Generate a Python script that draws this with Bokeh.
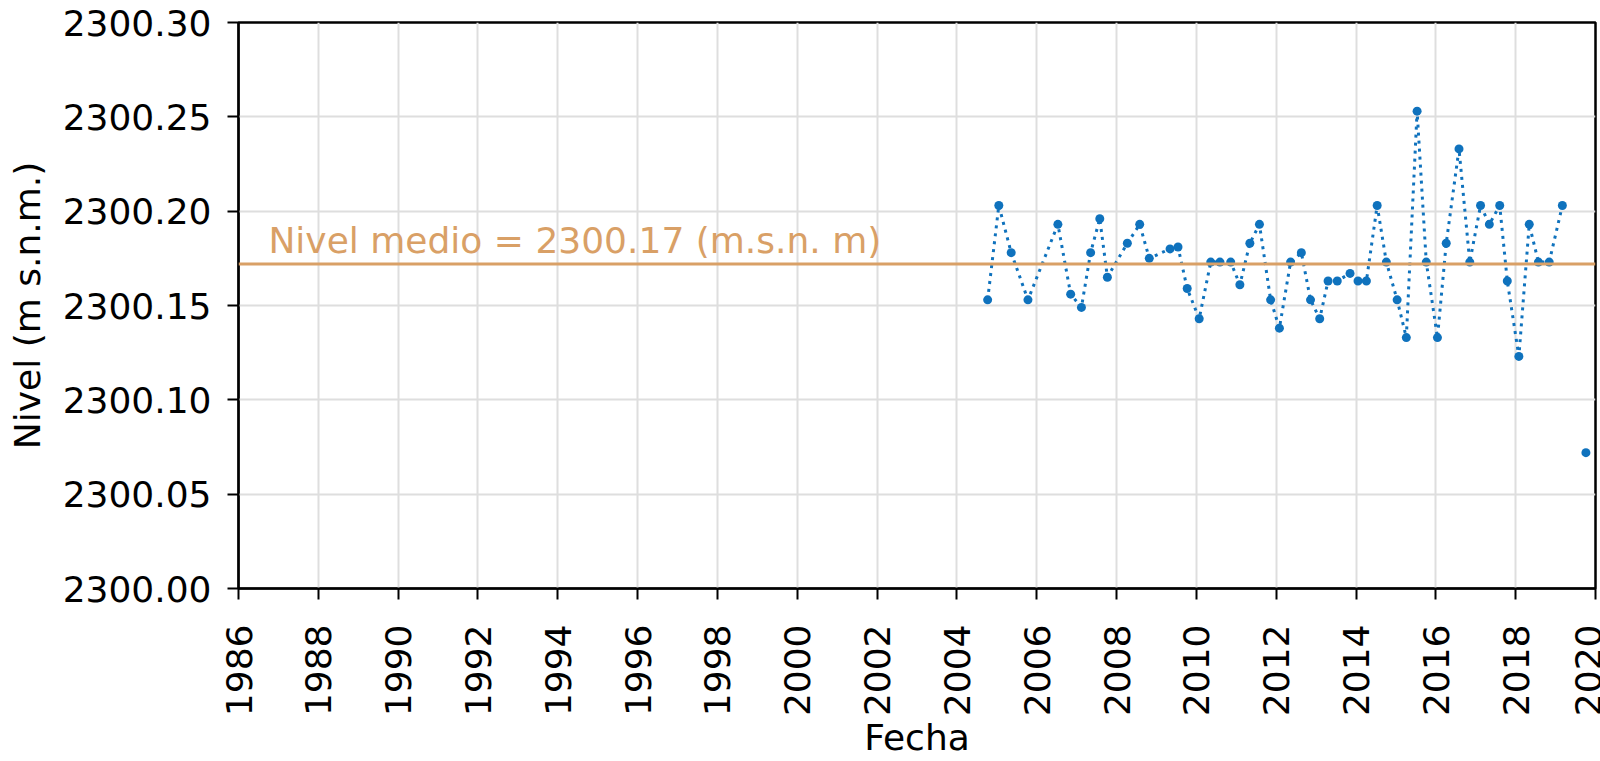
import math
from bokeh.plotting import figure
from bokeh.models import FixedTicker, Span, Label, Range1d
from bokeh.embed import file_html
from bokeh.resources import INLINE

# ---- data ----
fecha = [2004.77, 2005.05, 2005.36, 2005.78, 2006.53, 2006.85, 2007.12, 2007.35,
         2007.58, 2007.77, 2008.27, 2008.58, 2008.82, 2009.34, 2009.54, 2009.77,
         2010.07, 2010.36, 2010.59, 2010.86, 2011.09, 2011.34, 2011.58, 2011.86,
         2012.08, 2012.36, 2012.63, 2012.86, 2013.09, 2013.30, 2013.53, 2013.85,
         2014.05, 2014.26, 2014.53, 2014.76, 2015.03, 2015.26, 2015.53, 2015.76,
         2016.04, 2016.26, 2016.58, 2016.85, 2017.12, 2017.34, 2017.60, 2017.79,
         2018.08, 2018.34, 2018.57, 2018.84, 2019.17, 2019.45, 2019.76]
nivel = [2300.153, 2300.203, 2300.178, 2300.153, 2300.193, 2300.156, 2300.149, 2300.178,
         2300.196, 2300.165, 2300.183, 2300.193, 2300.175, 2300.180, 2300.181, 2300.159,
         2300.143, 2300.173, 2300.173, 2300.173, 2300.161, 2300.183, 2300.193, 2300.153,
         2300.138, 2300.173, 2300.178, 2300.153, 2300.143, 2300.163, 2300.163, 2300.167,
         2300.163, 2300.163, 2300.203, 2300.173, 2300.153, 2300.133, 2300.253, 2300.173,
         2300.133, 2300.183, 2300.233, 2300.173, 2300.203, 2300.193, 2300.203, 2300.163,
         2300.123, 2300.193, 2300.173, 2300.173, 2300.203, float("nan"), 2300.072]
nivel_medio = 2300.172
texto_medio = "Nivel medio = 2300.17 (m.s.n. m)"

x_ticks = list(range(1986, 2021, 2))
x_labels = [str(t) for t in x_ticks]
y_ticks = [2300.00, 2300.05, 2300.10, 2300.15, 2300.20, 2300.25, 2300.30]
y_labels = ["2300.00", "2300.05", "2300.10", "2300.15", "2300.20", "2300.25", "2300.30"]

FONT = "DejaVu Sans"
FS = "36px"
BLUE = "#0f72bd"
ORANGE = "#d9a066"

p = figure(width=1600, height=761, output_backend="svg", toolbar_location=None,
           x_range=Range1d(1986, 2020), y_range=Range1d(2300.00, 2300.30),
           min_border_left=238, min_border_right=5, min_border_top=22,
           min_border_bottom=10)
p.background_fill_color = "white"
p.border_fill_color = "white"
p.outline_line_color = "black"
p.outline_line_width = 2.5

# grid
for g in (p.xgrid, p.ygrid):
    g.grid_line_color = "#dedede"
    g.grid_line_width = 2

p.xaxis.ticker = FixedTicker(ticks=x_ticks)
p.xaxis.major_label_overrides = {t: l for t, l in zip(x_ticks, x_labels)}
p.yaxis.ticker = FixedTicker(ticks=y_ticks)
p.yaxis.major_label_overrides = {t: l for t, l in zip(y_ticks, y_labels)}
p.xaxis.major_label_orientation = math.pi / 2

for ax in (p.xaxis, p.yaxis):
    ax.axis_line_color = "black"
    ax.axis_line_width = 2
    ax.major_tick_line_color = "black"
    ax.major_tick_line_width = 2
    ax.major_tick_out = 11
    ax.major_tick_in = 0
    ax.minor_tick_line_color = None
    ax.major_label_text_font = FONT
    ax.major_label_text_font_size = FS
    ax.major_label_text_color = "black"
    ax.axis_label_text_font = FONT
    ax.axis_label_text_font_size = FS
    ax.axis_label_text_font_style = "normal"
    ax.axis_label_text_color = "black"
    ax.axis_label_text_line_height = 0.9
    ax.major_label_text_line_height = 0.9

p.xaxis.axis_label = "Fecha"
p.yaxis.axis_label = "Nivel (m s.n.m.)"
p.xaxis.major_label_standoff = 25
p.xaxis.axis_label_standoff = -2
p.yaxis.major_label_standoff = 16
p.yaxis.axis_label_standoff = 12

# mean line
p.add_layout(Span(location=nivel_medio, dimension="width", line_color=ORANGE, line_width=3))
p.add_layout(Label(x=1986.75, y=nivel_medio, y_offset=23, text=texto_medio,
                   text_font=FONT, text_font_size=FS, text_color=ORANGE,
                   text_baseline="alphabetic", text_align="left"))

# series
p.line(fecha, nivel, line_color=BLUE, line_width=3, line_dash="3 5")
p.scatter(fecha, nivel, size=9, fill_color=BLUE, line_color=BLUE, line_width=0)

open("out.html", "w").write(file_html(p, INLINE))
